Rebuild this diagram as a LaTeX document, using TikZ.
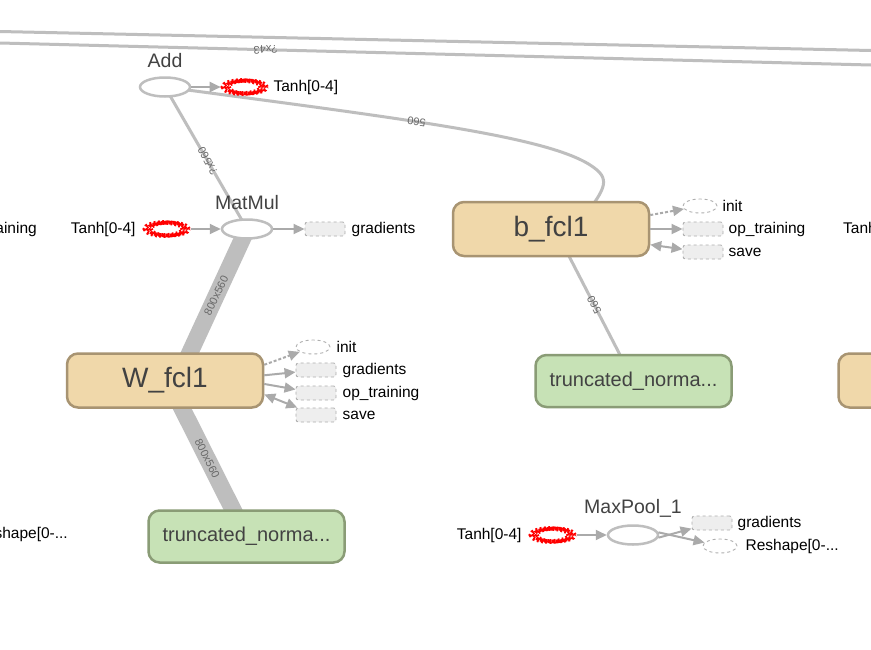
\documentclass[tikz,border=0pt]{standalone}
\usepackage{fontspec}
\setmainfont{Liberation Sans}
\usetikzlibrary{arrows.meta,positioning,shapes.geometric,calc,backgrounds}
\definecolor{tbEdge}{RGB}{190,190,190}
\definecolor{tbArrow}{RGB}{170,170,170}
\definecolor{tbTan}{RGB}{240,216,170}
\definecolor{tbTanLine}{RGB}{168,148,114}
\definecolor{tbGreen}{RGB}{199,226,182}
\definecolor{tbGreenLine}{RGB}{138,156,118}
\definecolor{tbBox}{RGB}{238,238,238}
\definecolor{tbDash}{RGB}{175,175,175}
\definecolor{tbText}{RGB}{66,66,66}
\definecolor{tbLbl}{RGB}{105,105,105}
\definecolor{tbRed}{RGB}{255,0,0}

\begin{document}
\begin{tikzpicture}[x=1pt, y=-1pt,
      varbox/.style={rectangle, rounded corners=11pt, draw=tbTanLine, line width=2.5pt,
        fill=tbTan, minimum width=196pt, minimum height=54pt, inner sep=0pt,
        font=\fontsize{28}{30}\selectfont, text=tbText},
      normbox/.style={rectangle, rounded corners=11pt, draw=tbGreenLine, line width=2.5pt,
        fill=tbGreen, minimum width=196pt, minimum height=52pt, inner sep=0pt,
        font=\fontsize{20}{22}\selectfont, text=tbText},
      opnode/.style={ellipse, draw=tbEdge, line width=2.5pt, fill=white,
        minimum width=50pt, minimum height=19pt, inner sep=0pt},
      sernode/.style={ellipse, draw=tbRed, line width=4.6pt, dash pattern=on 1.9pt off 2.3pt,
        minimum width=38pt, minimum height=13pt, inner sep=0pt,
        postaction={draw=tbRed, line width=3.6pt, dash pattern=on 1.9pt off 2.3pt,
          transform canvas={xshift=3pt}},
        postaction={draw=tbRed, line width=3.6pt, dash pattern=on 1.9pt off 2.3pt,
          transform canvas={xshift=6pt}}},
      auxbox/.style={rectangle, rounded corners=2.5pt, draw=tbDash, dashed, line width=0.9pt,
        fill=tbBox, minimum width=40pt, minimum height=14pt, inner sep=0pt},
      auxell/.style={ellipse, draw=tbDash, dashed, line width=0.9pt, fill=white,
        minimum width=34pt, minimum height=14pt, inner sep=0pt},
      optitle/.style={font=\fontsize{19.5}{21}\selectfont, text=tbText, inner sep=0pt},
      auxlbl/.style={font=\fontsize{15.5}{17}\selectfont, inner sep=0pt},
      arr/.style={-{Triangle[length=11pt,width=10pt]}, draw=tbArrow, line width=2pt},
      darr/.style={arr, dash pattern=on 3pt off 2pt},
      barr/.style={{Triangle[length=11pt,width=10pt]}-{Triangle[length=11pt,width=10pt]},
        draw=tbArrow, line width=2pt},
      tedge/.style={draw=tbEdge, line width=3pt},
      fedge/.style={draw=tbEdge, line width=17pt},
      elbl/.style={font=\fontsize{11}{12}\selectfont, text=tbLbl, inner sep=0pt},
    ]
    \useasboundingbox (0,0) rectangle (871,649);
    \clip (0,0) rectangle (871,649);

    % ---- main nodes ----
    \node[opnode] (add) at (165,87) {};
    \node[optitle] (addlbl) at (165,61) {Add};
    \node[opnode] (matmul) at (247,229) {};
    \node[optitle] (matmullbl) at (247,203) {MatMul};
    \node[opnode] (maxpool) at (633,535) {};
    \node[optitle] (maxpoollbl) at (633,508) {MaxPool\_1};

    \node[varbox] (bfc) at (551,229) {b\_fcl1};
    \node[varbox] (wfc) at (165,380.5) {W\_fcl1};
    \node[varbox] (wright) at (936.5,380.5) {};
    \node[normbox] (tnleft) at (246.5,536.5) {truncated\_norma...};
    \node[normbox] (tnright) at (633.5,381) {truncated\_norma...};

    % ---- series inputs ----
    \node[sernode] (tanhA) at (242,87) {};
    \node[auxlbl, right=10pt of tanhA] (tanhAlbl) {Tanh[0-4]};
    \node[sernode] (tanhB) at (164,229) {};
    \node[auxlbl, left=7pt of tanhB] (tanhBlbl) {Tanh[0-4]};
    \node[sernode] (tanhC) at (550,535) {};
    \node[auxlbl, left=7pt of tanhC] (tanhClbl) {Tanh[0-4]};

    % ---- auxiliary nodes ----
    \node[auxbox] (gradM) at (325,229) {};
    \node[auxlbl, right=6pt of gradM] (gradMlbl) {gradients};

    \node[auxell] (initB) at (700,206) {};
    \node[auxlbl, right=5pt of initB] (initBlbl) {init};
    \node[auxbox] (opB) at (703,229) {};
    \node[auxlbl, right=5pt of opB] (opBlbl) {op\_training};
    \node[auxbox] (saveB) at (703,252) {};
    \node[auxlbl, right=5pt of saveB] (saveBlbl) {save};

    \node[auxell] (initW) at (313,347) {};
    \node[auxlbl, right=6pt of initW] (initWlbl) {init};
    \node[auxbox] (gradW) at (316,370) {};
    \node[auxlbl, right=6pt of gradW] (gradWlbl) {gradients};
    \node[auxbox] (opW) at (316,393) {};
    \node[auxlbl, right=6pt of opW] (opWlbl) {op\_training};
    \node[auxbox] (saveW) at (316,415) {};
    \node[auxlbl, right=6pt of saveW] (saveWlbl) {save};

    \node[auxbox] (gradC) at (712,523) {};
    \node[auxlbl, right=5pt of gradC] (gradClbl) {gradients};
    \node[auxell] (reshC) at (720,546) {};
    \node[auxlbl, right=8pt of reshC] (reshClbl) {Reshape[0-...};

    % ---- cut-off neighbours at the edges ----
    \node[auxlbl, anchor=east] (opleft) at (37,229) {op\_training};
    \node[auxlbl, anchor=east] (reshleft) at (68,534) {Reshape[0-...};
    \node[auxlbl, anchor=west] (tanhright) at (843,229) {Tanh[0-4]};

    % ---- data edges, behind the nodes ----
    \begin{scope}[on background layer]
      \fill[white] (0,0) rectangle (871,649);
      \coordinate (topa1) at (0,31.5);
      \coordinate (topb1) at (871,50.5);
      \coordinate (topa2) at (0,43);
      \coordinate (topb2) at (871,65);
      \coordinate (bend) at (597,170);
      \draw[tedge] (topa1) -- (topb1);
      \draw[tedge] (topa2) -- node[elbl, pos=0.305, rotate=181.5]{?x43} (topb2);

      \draw[tedge] (add.center) -- node[elbl, pos=0.52, rotate=118]{?x560} (matmul.center);
      \draw[tedge] (add.center) .. controls (420,121) and (560,138) ..
        node[elbl, pos=0.4, rotate=172]{560} (bend)
        .. controls (612,183) and (600,195) .. ($(bfc.center)+(24,0)$);
      \draw[fedge] ($(wfc.center)+(12,0)$) -- node[elbl, pos=0.56, rotate=64]{800x560}
        (matmul.center);
      \draw[fedge] ($(wfc.center)+(3,0)$) -- node[elbl, rotate=-63]{800x560}
        (tnleft.center);
      \draw[tedge] ($(bfc.center)+(4,0)$) -- node[elbl, rotate=117.5]{560}
        (tnright.center);
    \end{scope}

    % ---- control / reference edges ----
    \draw[arr] (add) -- (tanhA);
    \draw[arr] (tanhB.east) ++(6pt,0) coordinate (tanhBe) (tanhBe) -- (matmul);
    \draw[arr] (matmul) -- (gradM);
    \draw[arr] (tanhC.east) ++(6pt,0) coordinate (tanhCe) (tanhCe) -- (maxpool);
    \draw[arr] (maxpool.-6) -- (gradC);
    \draw[arr] (maxpool.6) -- (reshC);

    \draw[darr] (bfc.8) -- (initB);
    \draw[arr] (bfc.east) -- (opB);
    \draw[barr] (bfc.-9) -- (saveB);

    \draw[darr] (wfc.9) -- (initW);
    \draw[arr] (wfc.3) -- (gradW);
    \draw[arr] (wfc.-2) -- (opW);
    \draw[barr] (wfc.-8) -- (saveW);
  \end{tikzpicture}
\end{document}
